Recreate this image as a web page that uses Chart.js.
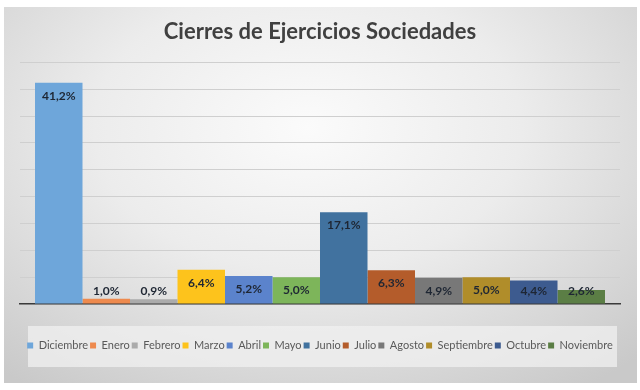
<!DOCTYPE html>
<html lang="es">
<head>
  <meta charset="UTF-8">
  <title>Cierres de Ejercicios Sociedades</title>
  <script src="https://cdn.jsdelivr.net/npm/chart.js"></script>
  <style>
    * { box-sizing: border-box; }
    body { margin: 0; background: #fff; width: 640px; height: 390px; overflow: hidden; }
    .frame { position: absolute; left: 4px; top: 7px; width: 633px; height: 376px;
      background: radial-gradient(ellipse 75% 85% at 48% 32%, #fbfbfb 0%, #ececec 45%, #d6d6d6 80%, #c9c9c9 100%); }
    canvas { display: block; }
  </style>
</head>
<body>
  <div class="frame"><canvas id="chart" width="633" height="376"></canvas></div>
  <script>
    // Data
    const months = ['Diciembre', 'Enero', 'Febrero', 'Marzo', 'Abril', 'Mayo', 'Junio', 'Julio', 'Agosto', 'Septiembre', 'Octubre', 'Noviembre'];
    const shares = [41.2, 1.0, 0.9, 6.4, 5.2, 5.0, 17.1, 6.3, 4.9, 5.0, 4.4, 2.6];
    const colors = ['#6ea6da', '#ee8a4e', '#ababab', '#fdc31c', '#5b83cc', '#7db55a', '#41729f', '#b45c2b', '#787878', '#b08d2a', '#3d5b8f', '#5b7e45'];
    const yMax = 45, yStep = 5;

    const fmt = v => v.toFixed(1).replace('.', ',') + '%';

    // label inside the top of each bar, kept above the baseline for short bars
    const barLabels = {
      id: 'barLabels',
      afterDatasetsDraw(chart) {
        const ctx = chart.ctx, base = chart.scales.y.getPixelForValue(0);
        ctx.save();
        ctx.font = 'bold 12px Lato, sans-serif';
        ctx.fillStyle = '#1e2633';
        ctx.textAlign = 'center'; ctx.textBaseline = 'middle';
        chart.data.datasets.forEach((ds, i) => {
          const el = chart.getDatasetMeta(i).data[0];
          ctx.fillText(fmt(ds.data[0]), el.x, Math.min(el.y + 13, base - 13));
        });
        ctx.restore();
      }
    };

    // light panel behind the legend
    const legendPanel = {
      id: 'legendPanel',
      beforeDraw(chart) {
        const lg = chart.legend, ctx = chart.ctx;
        ctx.save();
        ctx.fillStyle = 'rgba(240,240,240,0.75)';
        ctx.fillRect(24, lg.top - 12, 589, lg.bottom - lg.top + 18);
        ctx.restore();
      }
    };

    new Chart(document.getElementById('chart'), {
      type: 'bar',
      data: {
        labels: [''],
        datasets: months.map((m, i) => ({ label: m, data: [shares[i]], backgroundColor: colors[i], borderWidth: 0 }))
      },
      options: {
        responsive: false,
        animation: false,
        categoryPercentage: 0.95,
        barPercentage: 1,
        layout: { padding: { left: 16, right: 17, top: 0, bottom: 22 } },
        plugins: {
          title: { display: true, text: 'Cierres de Ejercicios Sociedades', color: '#404040',
            font: { family: 'Lato', size: 22, weight: 'bold' }, padding: { top: 12, bottom: 17 } },
          legend: { position: 'bottom',
            labels: { color: '#595959', font: { family: 'Lato', size: 11 }, boxWidth: 6, boxHeight: 6, padding: 2 } },
          tooltip: { enabled: false }
        },
        scales: {
          x: { grid: { display: false, drawTicks: false }, ticks: { display: false },
            border: { display: true, color: '#3a3a3a', width: 1.5 },
            afterFit: s => { s.height = 34; } },
          y: { min: 0, max: yMax, ticks: { display: false, stepSize: yStep },
            grid: { color: '#cfcfcf', drawTicks: false }, border: { display: false } }
        }
      },
      plugins: [legendPanel, barLabels]
    });
  </script>
</body>
</html>
